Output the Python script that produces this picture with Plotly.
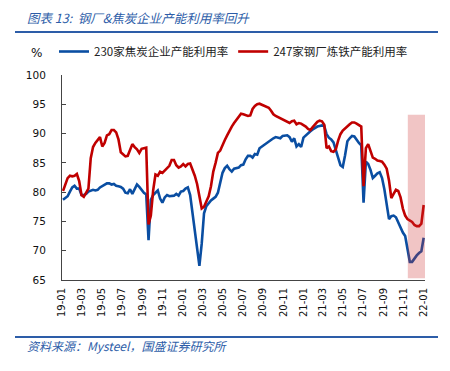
import pandas as pd
import plotly.graph_objects as go

# Weekly observations starting 2019-01-04
start_date = "2019-01-04"
coke_util = [
    78.7, 79.0, 79.3, 80.1, 80.8, 81.1, 80.6, 80.6, 79.5, 79.5,
    79.7, 80.1, 80.3, 80.4, 80.3, 80.4, 80.8, 81.0, 81.3, 81.5,
    81.5, 81.3, 81.4, 81.1, 81.0, 80.9, 80.6, 79.9, 79.8, 80.5,
    79.7, 80.5, 81.3, 80.9, 80.3, 79.9, 79.6, 71.8, 78.7, 79.5,
    79.9, 80.3, 78.9, 78.2, 79.1, 79.5, 79.3, 79.3, 79.4, 79.7,
    79.4, 80.1, 80.2, 80.6, 80.8, 79.5, 76.3, 73.2, 70.1, 67.4,
    71.2, 76.4, 77.6, 78.2, 78.6, 78.9, 79.2, 79.9, 81.5, 83.3,
    84.1, 84.5, 83.9, 83.5, 84.0, 84.1, 84.2, 84.6, 84.7, 85.6,
    86.2, 86.2, 85.9, 86.5, 86.4, 87.5, 87.8, 88.0, 88.4, 88.7,
    89.0, 89.2, 89.4, 89.3, 89.2, 89.6, 89.7, 89.7, 89.4, 88.6,
    89.2, 87.8, 88.2, 87.7, 89.3, 89.7, 90.0, 90.4, 90.7, 91.0,
    91.2, 91.3, 91.4, 91.3, 89.9, 89.3, 89.0, 88.5, 87.0, 85.9,
    84.6, 84.3, 86.3, 88.7, 89.2, 89.6, 89.5, 88.9, 88.4, 88.0,
    78.2, 85.2, 84.8, 83.8, 82.4, 82.8, 83.2, 83.4, 82.4, 80.5,
    77.5, 75.4, 75.9, 76.0, 75.7, 74.8, 73.8, 73.1, 72.5, 70.5,
    68.1, 68.1, 68.7, 69.2, 69.6, 69.9, 72.2,
]
steel_util = [
    80.2, 81.2, 82.4, 82.8, 82.7, 82.8, 83.1, 81.9, 79.5, 79.2,
    79.9, 80.6, 85.8, 87.7, 88.4, 88.9, 89.4, 87.8, 88.4, 89.7,
    89.9, 90.6, 90.6, 90.2, 89.0, 86.8, 86.4, 86.1, 86.2, 87.2,
    88.2, 87.7, 87.3, 86.7, 87.4, 87.5, 87.6, 74.5, 76.0, 80.3,
    83.0, 82.8, 83.5, 83.3, 83.7, 84.0, 84.5, 85.5, 85.5, 84.6,
    84.2, 84.4, 84.8, 84.4, 84.8, 84.9, 84.0, 82.8, 81.4, 78.9,
    77.2, 77.5, 78.3, 79.3, 81.0, 83.5, 85.0, 86.7, 87.1, 88.1,
    88.9, 89.7, 90.5, 91.2, 91.8, 92.3, 92.8, 93.4, 93.3, 93.1,
    93.0, 93.1, 94.2, 94.7, 95.0, 95.1, 94.9, 94.7, 94.6, 94.4,
    93.9, 93.3, 93.0, 92.8, 92.6, 92.4, 92.3, 92.1, 91.8, 92.1,
    92.2, 91.6, 91.8, 91.7, 91.5, 91.2, 90.8, 90.6, 91.1, 91.6,
    92.0, 92.2, 92.1, 91.5, 87.5, 87.8, 87.0, 86.9, 87.3, 88.8,
    89.9, 90.5, 90.9, 91.3, 91.6, 91.9, 91.9, 91.7, 91.4, 91.2,
    81.0, 87.5, 88.2, 86.9, 85.9, 85.7, 85.4, 85.3, 85.2, 84.7,
    84.0, 82.0, 79.0, 79.7, 80.4, 80.2, 79.1, 77.2, 76.0, 75.4,
    75.2, 74.9, 74.4, 74.2, 74.2, 74.6, 77.8,
]
dates = pd.date_range(start_date, periods=len(coke_util), freq="7D")

coke_name = "230家焦炭企业产能利用率"
steel_name = "247家钢厂炼铁产能利用率"
title_text = "图表 13:\u00a0\u00a0钢厂&焦炭企业产能利用率回升"
source_text = "资料来源：Mysteel，国盛证券研究所"
unit_text = "%"
highlight_x = ["2021-11-13", "2022-01-09"]
highlight_y = [65.3, 93.2]

BLUE = "#0a4ea2"
RED = "#c00000"
TXT_BLUE = "#2d5da8"
CJK = "Noto Sans CJK SC"

fig = go.Figure()
fig.add_trace(go.Scatter(x=dates, y=coke_util, name=coke_name, mode="lines",
                         line=dict(color=BLUE, width=2.6)))
fig.add_trace(go.Scatter(x=dates, y=steel_util, name=steel_name, mode="lines",
                         line=dict(color=RED, width=2.6)))

fig.add_shape(type="rect", xref="x", yref="y",
              x0=highlight_x[0], x1=highlight_x[1],
              y0=highlight_y[0], y1=highlight_y[1],
              fillcolor="rgba(205,45,45,0.28)", line=dict(width=0), layer="above")

# header/footer rules
fig.add_shape(type="line", xref="paper", yref="paper",
              x0=-47/363, x1=376/363, y0=1 + 43/205, y1=1 + 43/205,
              line=dict(color=TXT_BLUE, width=2))
fig.add_shape(type="line", xref="paper", yref="paper",
              x0=-47/363, x1=376/363, y0=-57/205, y1=-57/205,
              line=dict(color=TXT_BLUE, width=2))

fig.add_annotation(text=title_text, xref="paper", yref="paper",
                   x=-37/363, y=1 + 57/205, xanchor="left", yanchor="middle",
                   showarrow=False,
                   font=dict(family=CJK, size=12.5, color=TXT_BLUE, style="italic"))
fig.add_annotation(text=source_text, xref="paper", yref="paper",
                   x=-37/363, y=-65/205, xanchor="left", yanchor="middle",
                   showarrow=False,
                   font=dict(family=CJK, size=12, color=TXT_BLUE, style="italic"))
fig.add_annotation(text=unit_text, xref="paper", yref="paper",
                   x=-26/363, y=1 + 22/205, xanchor="center", yanchor="middle",
                   showarrow=False,
                   font=dict(family="DejaVu Sans", size=12, color="#111111"))

fig.update_layout(
    width=450, height=371,
    margin=dict(l=54, r=33, t=67, b=99, autoexpand=False),
    paper_bgcolor="white", plot_bgcolor="white",
    showlegend=True,
    legend=dict(orientation="h", xref="container", yref="container",
                x=46/450, y=1 - 29/371, xanchor="left", yanchor="top",
                font=dict(family=CJK, size=11.5, color="#222222"),
                itemwidth=30, tracegroupgap=0, bgcolor="rgba(0,0,0,0)"),
    xaxis=dict(type="date", range=["2019-01-01", "2022-01-04"],
               tickformat="%y-%m", dtick="M2", tick0="2019-01-01",
               tickangle=-90, showline=True, linecolor="#444444", linewidth=1,
               ticks="", showgrid=False, zeroline=False, ticklabelstandoff=3,
               tickfont=dict(family="DejaVu Sans", size=10, color="#111111")),
    yaxis=dict(range=[65, 100], dtick=5, showline=True, linecolor="#444444",
               linewidth=1, ticks="inside", ticklen=4, tickcolor="#444444",
               showgrid=False, zeroline=False, ticklabelstandoff=13,
               tickfont=dict(family="DejaVu Sans", size=10.5, color="#111111")),
)

fig.write_html("out.html")
